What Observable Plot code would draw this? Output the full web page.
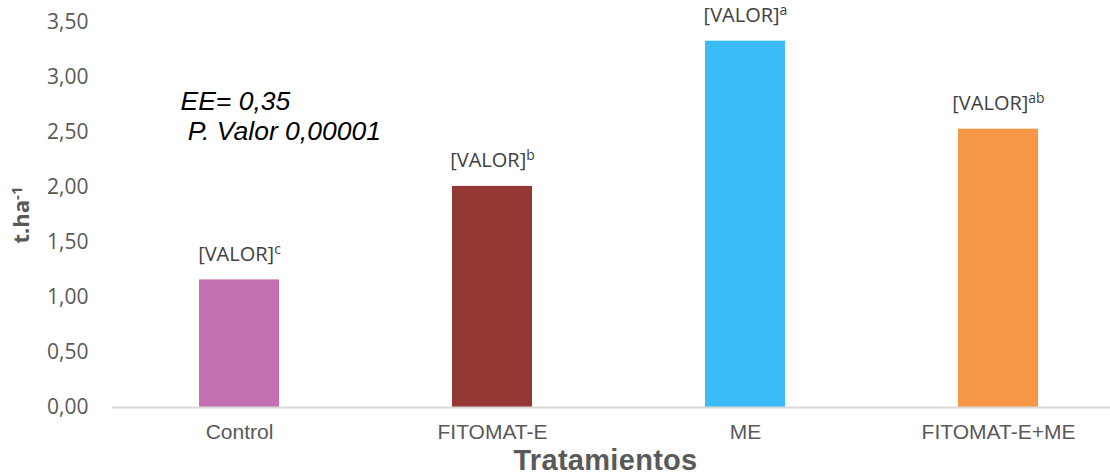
<!DOCTYPE html>
<html><head><meta charset="utf-8">
<script src="https://cdn.jsdelivr.net/npm/d3@7"></script>
<script src="https://cdn.jsdelivr.net/npm/@observablehq/plot@0.6"></script>
<style>
html,body{margin:0;padding:0;background:#fff;overflow:hidden}
#chart svg{display:block}
g[aria-label="y-axis tick label"] text{font-family:"Open Sans";font-size:21px;fill:#595959}
g[aria-label="x-axis tick label"] text{font-family:"Liberation Sans";font-size:21px;fill:#595959}
g[aria-label="x-axis label"] text{font-family:"Liberation Sans";font-weight:bold;font-size:29px;letter-spacing:0.3px;fill:#595959}
g[aria-label="y-axis label"] text{font-family:"Open Sans";font-weight:bold;font-size:22px;fill:#595959}
text.valor{font-family:"Open Sans";font-size:20px;fill:#404040}
text.annotation{font-family:"Liberation Sans";font-style:italic;font-size:26.5px;fill:#000}
</style></head>
<body><div id="chart"></div>
<script>
const categories = ["Control", "FITOMAT-E", "ME", "FITOMAT-E+ME"];
const values = [1.16, 2.01, 3.33, 2.53];
const letters = ["c", "b", "a", "ab"];
const colors = ["#C36FB1", "#953735", "#3ABCF8", "#F79646"];
const yTicks = [0, 0.5, 1, 1.5, 2, 2.5, 3, 3.5];
const valueLabel = "[VALOR]";
const annotationLines = ["EE= 0,35", "\u00a0P. Valor 0,00001"];
const yLabel = "t.ha";
const yLabelSup = "-1";
const xLabel = "Tratamientos";

const data = categories.map((c, i) => ({cat: c, value: values[i], letter: letters[i]}));

const svg = Plot.plot({
  width: 1110, height: 474,
  marginLeft: 112, marginRight: 0, marginTop: 22, marginBottom: 67,
  style: {background: "#fff"},
  x: {domain: categories, range: [112, 1125], paddingInner: 0.684, paddingOuter: 0.342},
  y: {domain: [0, 3.5], range: [407, 22]},
  color: {domain: categories, range: colors},
  marks: [
    Plot.axisY({ticks: yTicks, tickSize: 0, tickPadding: 24,
      tickFormat: d => d.toFixed(2).replace(".", ","),
      label: yLabel, labelAnchor: "center", labelOffset: 99}),
    Plot.axisX({tickSize: 0, tickPadding: 17, label: xLabel, labelAnchor: "center", labelOffset: 62}),
    Plot.barY(data, {x: "cat", y: "value", fill: "cat"}),
    Plot.ruleY([0], {stroke: "#D9D9D9", strokeWidth: 2}),
    Plot.text(data, {x: "cat", y: "value", text: () => valueLabel, lineAnchor: "bottom", dy: -19}),
    Plot.text([annotationLines.join("\n")], {frameAnchor: "top-left", textAnchor: "start", lineAnchor: "top",
      lineHeight: 1.13, dx: 68, dy: 66, text: d => d})
  ]
});

const sel = d3.select(svg);
const valorTexts = sel.selectAll("text").filter(function() { return this.textContent === valueLabel; });
valorTexts.each(function(_, i) {
  this.classList.add("valor");
  d3.select(this).append("tspan").attr("dy", "-0.5em").style("font-size", "14px").text(letters[i]);
});
sel.selectAll("text").filter(function() { return this.textContent.includes("EE="); })
  .each(function() { this.classList.add("annotation"); });
sel.selectAll('g[aria-label="y-axis label"] text').each(function() {
  this.textContent = yLabel;
  d3.select(this).append("tspan").attr("dy", "-0.5em").style("font-size", "15px").text(yLabelSup);
});
sel.selectAll('g[aria-label="x-axis label"] text').each(function() {
  this.textContent = xLabel;
  this.setAttribute("dx", "-6");
});
document.getElementById("chart").appendChild(svg);
</script>
</body></html>
